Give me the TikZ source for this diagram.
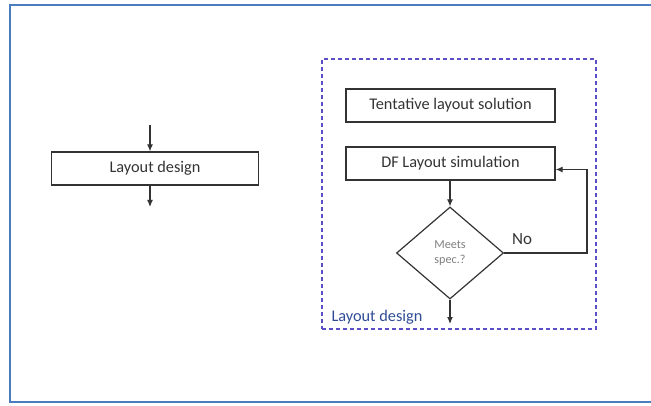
\documentclass[tikz,border=0pt]{standalone}
\usepackage{fontspec}
\setmainfont{Carlito}
\usetikzlibrary{shapes.geometric,arrows.meta}
\definecolor{framebl}{HTML}{4A7CC0}
\definecolor{dashpur}{HTML}{5B4FC8}
\definecolor{lblblue}{HTML}{2E4C96}
\definecolor{inkgray}{HTML}{333333}
\tikzset{
  procbox/.style={draw=inkgray, line width=1.2pt, minimum height=33pt, inner sep=0pt,
    font=\fontsize{16.3}{18}\selectfont, text=inkgray},
  decision/.style={draw=inkgray, line width=1.2pt, diamond, inner sep=0pt,
    minimum width=107pt, minimum height=92pt, align=center,
    font=\fontsize{12.2}{15}\selectfont, text=gray},
  flow/.style={draw=inkgray, line width=1.2pt, -{Latex[length=7pt,width=6pt]}},
}
\begin{document}
\begin{tikzpicture}[x=1pt,y=-1pt]
\useasboundingbox (0,0) rectangle (651,406);
% outer frame
\draw[framebl, line width=2pt] (10,5) rectangle (670,402);
% left: single step
\node[procbox, minimum width=207pt] (ld) at (155,168.5) {Layout design};
\coordinate (ldin) at (150,125);
\coordinate (ldout) at (150,207);
\draw[flow] (ldin) -- (ld.north -| ldin);
\draw[flow] (ld.south -| ldout) -- (ldout);
% right: expanded step
\node[draw=dashpur, line width=1.2pt, dash pattern=on 4pt off 3pt,
  minimum width=274pt, minimum height=270pt, inner sep=0pt] (grp) at (459,194) {};
\node[procbox, minimum width=209pt] (tls) at (450.5,105.5) {Tentative layout solution};
\node[procbox, minimum width=209pt] (sim) at (450.5,163.5) {DF Layout simulation};
\node[decision] (spec) at (450,253) {Meets\\spec.?};
\coordinate (out) at (450,324);
\coordinate (loop) at (587,253);
\draw[flow] (sim.south -| spec.north) -- (spec.north);
\draw[flow] (spec.south) -- (out);
\draw[flow] (spec.east) -- (loop) |- ([yshift=-6pt]sim.east);
\node[font=\fontsize{17}{20}\selectfont, text=inkgray] (no) at (522,239) {No};
\node[font=\fontsize{16.3}{18}\selectfont, text=lblblue, anchor=west] (grplbl) at (328,317) {Layout design};
\end{tikzpicture}
\end{document}
